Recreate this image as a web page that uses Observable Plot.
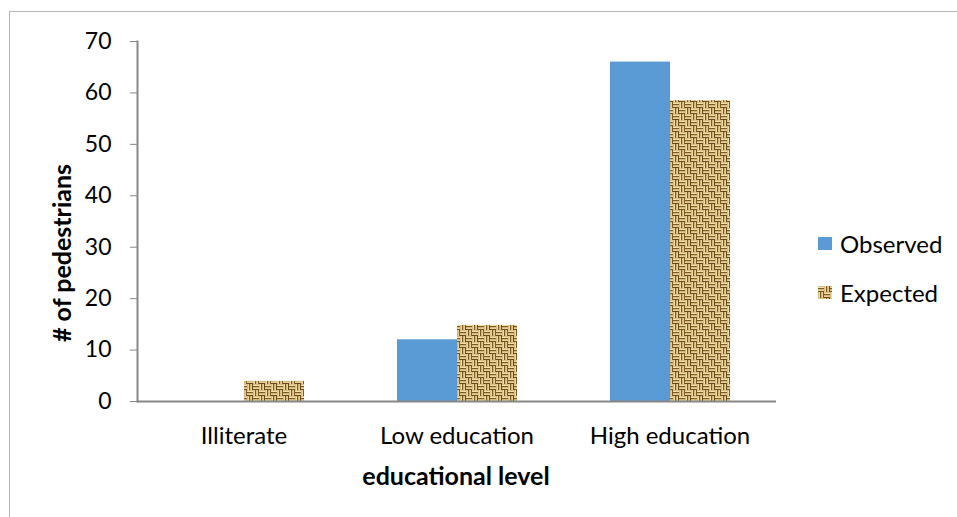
<!DOCTYPE html>
<html>
<head>
<meta charset="utf-8">
<script src="https://cdn.jsdelivr.net/npm/d3@7"></script>
<script src="https://cdn.jsdelivr.net/npm/@observablehq/plot@0.6"></script>
<style>
  html, body { margin: 0; padding: 0; background: #fff; }
  #wrap { position: relative; width: 957px; height: 517px; overflow: hidden; font-family: Lato, "Open Sans", sans-serif; }
  #border { position: absolute; left: 9px; top: 11px; width: 960px; height: 520px; border-top: 1.5px solid #b4b4b4; border-left: 1.5px solid #b4b4b4; pointer-events: none; }
  #legend { position: absolute; left: 818px; top: 227px; font-size: 24px; color: #000; }
  #legend .item { display: flex; align-items: center; height: 32px; margin-bottom: 17px; }
  #legend svg { margin-right: 8px; }
  #plot { position: absolute; left: 0; top: 0; }
</style>
</head>
<body>
<svg width="0" height="0" style="position:absolute">
  <defs>
    <pattern id="burlap" width="12" height="12" patternUnits="userSpaceOnUse">
      <rect width="12" height="12" fill="#bf9e5c"/>
      <rect x="0" y="0.5" width="6" height="1.5" fill="#f2dfa6"/>
      <rect x="0" y="2" width="6" height="1" fill="#7c5b28"/>
      <rect x="0" y="3.5" width="6" height="1.5" fill="#e8d196"/>
      <rect x="0" y="5" width="6" height="1" fill="#6e5024"/>
      <rect x="6" y="6.5" width="6" height="1.5" fill="#f2dfa6"/>
      <rect x="6" y="8" width="6" height="1" fill="#7c5b28"/>
      <rect x="6" y="9.5" width="6" height="1.5" fill="#e8d196"/>
      <rect x="6" y="11" width="6" height="1" fill="#654820"/>
      <rect x="6.5" y="0" width="1.5" height="6" fill="#efdba2"/>
      <rect x="8" y="0" width="1" height="6" fill="#785826"/>
      <rect x="9.5" y="0" width="1.5" height="6" fill="#e6ce92"/>
      <rect x="11" y="0" width="1" height="6" fill="#654820"/>
      <rect x="0.5" y="6" width="1.5" height="6" fill="#efdba2"/>
      <rect x="2" y="6" width="1" height="6" fill="#785826"/>
      <rect x="3.5" y="6" width="1.5" height="6" fill="#e6ce92"/>
      <rect x="5" y="6" width="1" height="6" fill="#7c5b28"/>
    </pattern>
  </defs>
</svg>
<div id="wrap">
  <div id="plot"></div>
  <div id="border"></div>
  <div id="legend"></div>
</div>
<script>
const categories = ["Illiterate", "Low education", "High education"];
const seriesNames = ["Observed", "Expected"];
const observed = [0, 12, 66];
const expected = [3.9, 14.8, 58.5];
const yTicks = [0, 10, 20, 30, 40, 50, 60, 70];
const seriesFills = ["#5b9bd5", "url(#burlap)"];

const data = [];
categories.forEach((c, i) => {
  data.push({category: c, series: "Observed", value: observed[i]});
  data.push({category: c, series: "Expected", value: expected[i]});
});

const FONT = "Lato, 'Open Sans', sans-serif";
const chart = Plot.plot({
  width: 957,
  height: 517,
  marginLeft: 136,
  marginRight: 181,
  marginTop: 41,
  marginBottom: 116,
  style: {fontFamily: FONT, fontSize: "24px", color: "#000", background: "transparent"},
  fx: {domain: categories, padding: 0},
  x: {domain: seriesNames, paddingInner: 0, paddingOuter: 0.75, axis: null},
  y: {domain: [0, 70]},
  color: {domain: seriesNames, range: seriesFills},
  marks: [
    Plot.barY(data, {fx: "category", x: "series", y: "value", fill: "series"}),
    Plot.ruleY([0], {stroke: "#878787", strokeWidth: 2}),
    Plot.frame({anchor: "left", facetAnchor: "left", stroke: "#878787", strokeWidth: 2}),
    Plot.axisY({ticks: yTicks, tickSize: 7, tickPadding: 19, stroke: "#878787", label: null, tickFormat: d => d, fontSize: 23}),
    Plot.axisFx({anchor: "bottom", tickSize: 0, tickPadding: 25, label: null, fontSize: 24})
  ]
});
document.getElementById("plot").appendChild(chart);

const svg = d3.select(chart);
svg.append("text")
  .attr("x", 456).attr("y", 485)
  .attr("text-anchor", "middle")
  .attr("font-weight", "bold").attr("font-size", 25)
  .attr("font-family", FONT)
  .text("educational level");
svg.append("text")
  .attr("transform", "translate(71,253) rotate(-90)")
  .attr("text-anchor", "middle")
  .attr("font-weight", "bold").attr("font-size", 25)
  .attr("font-family", FONT)
  .text("# of pedestrians");

const legend = d3.select("#legend");
seriesNames.forEach((s, i) => {
  const item = legend.append("div").attr("class", "item");
  item.append("svg").attr("width", 14).attr("height", 13)
    .append("rect").attr("width", 14).attr("height", 13).attr("fill", seriesFills[i]);
  item.append("span").text(s);
});
</script>
</body>
</html>
